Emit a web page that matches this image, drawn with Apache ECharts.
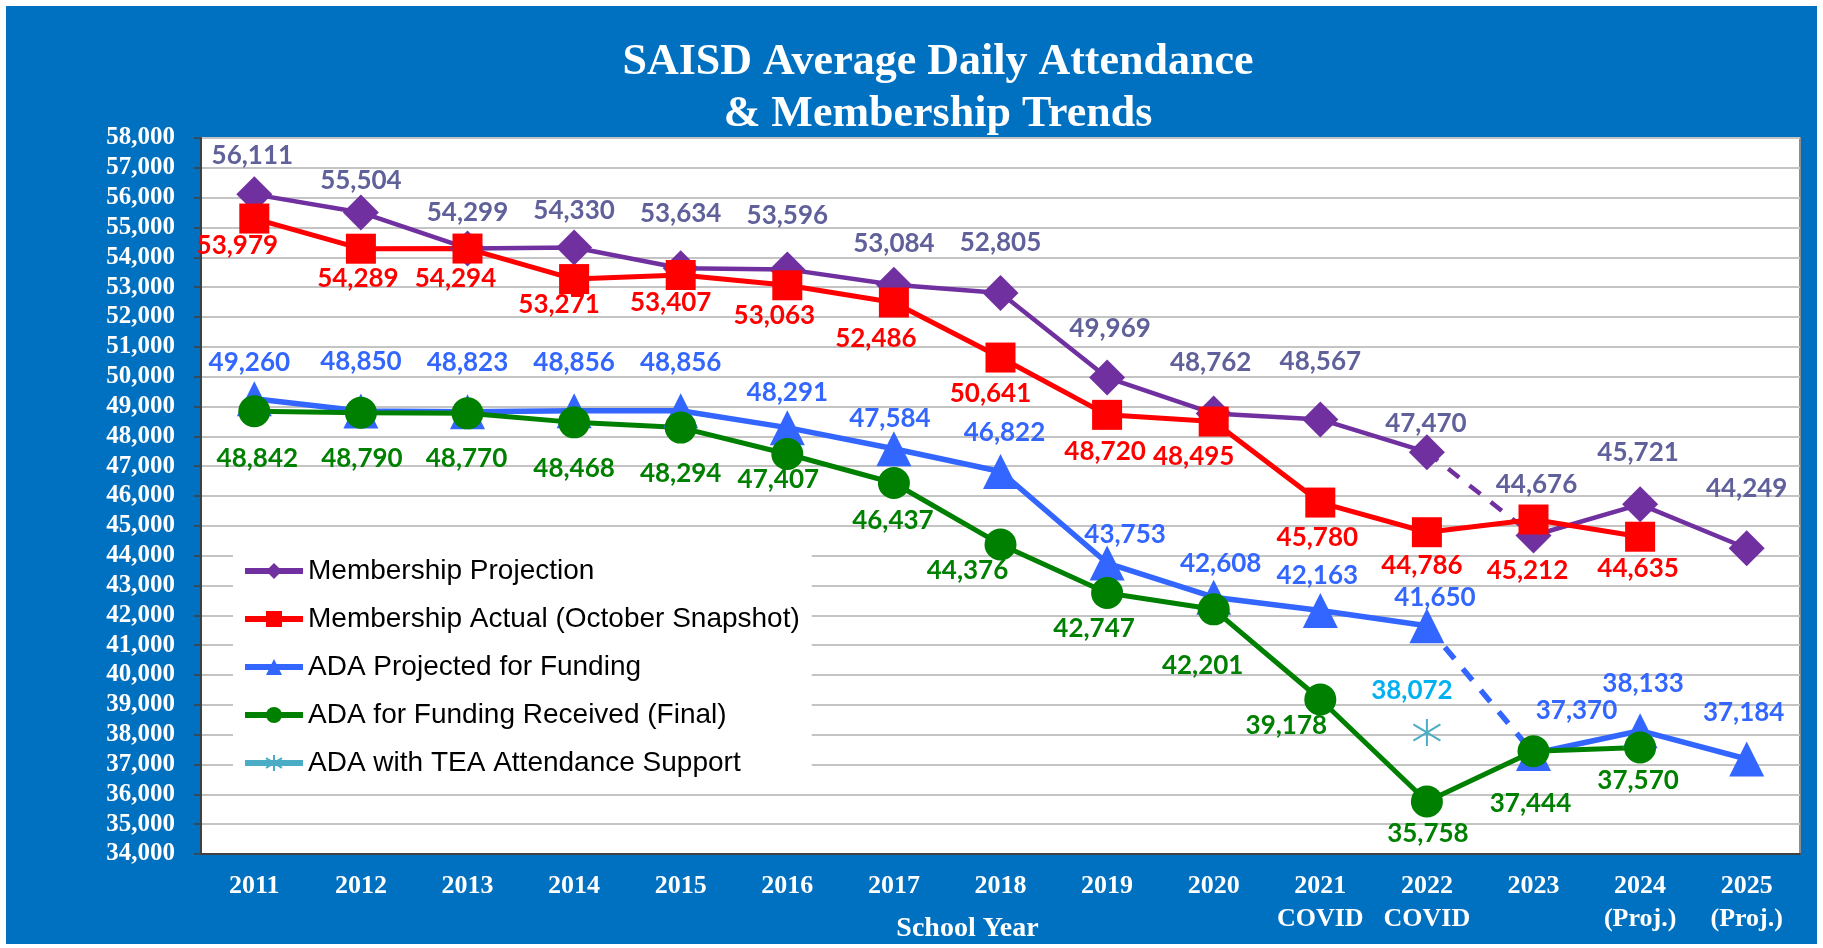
<!DOCTYPE html>
<html>
<head>
<meta charset="utf-8">
<script src="https://cdn.jsdelivr.net/npm/echarts@6/dist/echarts.min.js"></script>
<style>
  html, body { margin: 0; padding: 0; background: #fff; }
  #chart_container { width: 1823px; height: 948px; }
</style>
</head>
<body>
<div id="chart_container"></div>
<script>
// ---- data ----
var years = ["2011", "2012", "2013", "2014", "2015", "2016", "2017", "2018", "2019", "2020",
  "2021\nCOVID", "2022\nCOVID", "2023", "2024\n(Proj.)", "2025\n(Proj.)"];

var membershipProjection = [56111, 55504, 54299, 54330, 53634, 53596, 53084, 52805, 49969, 48762, 48567, 47470, 44676, 45721, 44249];
// the 2011 square sits near 55,300 but its label reads 53,979
var membershipActual = [55300, 54289, 54294, 53271, 53407, 53063, 52486, 50641, 48720, 48495, 45780, 44786, 45212, 44635, null];
var membershipActualText = ["53,979"];
var adaProjected = [49260, 48850, 48823, 48856, 48856, 48291, 47584, 46822, 43753, 42608, 42163, 41650, 37370, 38133, 37184];
var adaReceived = [48842, 48790, 48770, 48468, 48294, 47407, 46437, 44376, 42747, 42201, 39178, 35758, 37444, 37570, null];
var adaTea = [null, null, null, null, null, null, null, null, null, null, null, 38072, null, null, null];

var yMin = 34000, yMax = 58000, yStep = 1000;

var projNudge = [[-2,-39],[0,-32],[0,-36],[0,-37],[0,-55],[0,-54],[0,-41],[0,-50],[3,-49],[-3,-51],[0,-58],[-1,-29],[3,-51],[-2,-52],[0,-60]];
var actNudge = [[-17,27],[-3,30],[-12,30],[-15,26],[-10,28],[-13,30],[-18,36],[-10,36],[-2,37],[-20,35],[-3,35],[-5,33],[-6,51],[-2,32],[0,0]];
var adaPNudge = [[-5,-36],[0,-49],[0,-49],[0,-48],[0,-48],[0,-35],[-4,-30],[4,-39],[18,-28],[7,-34],[-3,-35],[8,-28],[43,-43],[3,-47],[-3,-46]];
var adaRNudge = [[3,47],[1,46],[-1,45],[0,46],[0,46],[-9,26],[-1,38],[-33,26],[-13,36],[-11,56],[-34,26],[1,32],[-3,52],[-2,33],[0,0]];
var teaNudge = [];
teaNudge[11] = [-15, -42];

function fmt(v) {
  return Number(v).toLocaleString("en-US");
}

// keep points from..to, blank the rest; attach label offsets
function pts(values, from, to, nudge, texts) {
  return values.map(function (v, i) {
    if (v == null || i < from || i > to) return null;
    var item = { value: v };
    if (nudge) item.label = { offset: nudge[i] };
    if (texts && texts[i]) item.label.formatter = texts[i];
    return item;
  });
}

function lbl(color) {
  return {
    show: true,
    position: "inside",
    color: color,
    fontFamily: "Lato",
    fontWeight: "bold",
    fontSize: 26,
    formatter: function (p) { return fmt(p.value); }
  };
}

var PURPLE = "#7030A0", RED = "#FF0000", BLUE = "#3366FF", GREEN = "#008000", TEAL = "#4BACC6";
var last = years.length - 1;
var asterisk = "path://M5,0 L5,10 M0.6,2 L9.4,8 M9.4,2 L0.6,8";

var dom = document.getElementById("chart_container");
var myChart = echarts.init(dom, null, { renderer: "canvas" });

var option = {
  backgroundColor: "#fff",
  animation: false,
  graphic: [
    { type: "rect", z: -10, silent: true, shape: { x: 6, y: 6, width: 1811, height: 938 }, style: { fill: "#0070C0" } }
  ],
  title: {
    text: "SAISD Average Daily Attendance\n& Membership Trends",
    left: 933,
    top: 32,
    textAlign: "center",
    textStyle: {
      fontFamily: "Liberation Serif",
      fontWeight: "bold",
      fontSize: 44,
      lineHeight: 52,
      color: "#fff"
    }
  },
  legend: {
    orient: "vertical",
    left: 233,
    top: 544,
    backgroundColor: "#fff",
    padding: [12, 12, 10, 9],
    itemWidth: 58,
    itemHeight: 20,
    itemGap: 18,
    lineStyle: { width: 6 },
    data: ["Membership Projection", "Membership Actual (October Snapshot)", "ADA Projected for Funding",
      "ADA for Funding Received (Final)", "ADA with TEA Attendance Support"],
    textStyle: { fontFamily: "Liberation Sans", fontSize: 28, lineHeight: 30, color: "#000" }
  },
  grid: {
    left: 201, right: 23, top: 138, bottom: 94,
    outerBoundsMode: "none",
    containLabel: false,
    show: true,
    backgroundColor: "#fff",
    borderColor: "#8C8C8C",
    borderWidth: 2
  },
  xAxis: {
    type: "category",
    data: years,
    name: "School Year",
    nameLocation: "middle",
    nameGap: 61,
    nameMoveOverlap: false,
    nameTextStyle: {
      fontFamily: "Liberation Serif", fontWeight: "bold", fontSize: 28, color: "#fff",
      padding: [0, 66, 0, 0]
    },
    axisLine: { lineStyle: { color: "#404040", width: 2 } },
    axisTick: { alignWithLabel: true, length: 8, lineStyle: { color: "#404040", width: 1.5 } },
    axisLabel: {
      interval: 0,
      margin: 16,
      fontFamily: "Liberation Serif", fontWeight: "bold", fontSize: 26, lineHeight: 33, color: "#fff"
    }
  },
  yAxis: {
    type: "value",
    min: yMin, max: yMax, interval: yStep,
    axisLine: { show: true, lineStyle: { color: "#404040", width: 2 } },
    axisTick: { show: true, length: 7, lineStyle: { color: "#404040", width: 1.5 } },
    axisLabel: {
      margin: 26,
      fontFamily: "Liberation Serif", fontWeight: "bold", fontSize: 25, color: "#fff",
      formatter: fmt
    },
    splitLine: { lineStyle: { color: "#C4C4C4", width: 2 } }
  },
  series: [
    {
      name: "Membership Projection", type: "line",
      data: pts(membershipProjection, 0, 11, projNudge),
      symbol: "diamond", symbolSize: 36,
      itemStyle: { color: PURPLE }, lineStyle: { color: PURPLE, width: 4.5 },
      label: lbl("#60609A")
    },
    {
      name: "Membership Projection", type: "line", z: 1,
      data: pts(membershipProjection, 11, 12),
      showSymbol: false, symbol: "none",
      lineStyle: { color: PURPLE, width: 4.5, type: [14, 13] }
    },
    {
      name: "Membership Projection", type: "line",
      data: pts(membershipProjection, 12, last, projNudge),
      symbol: "diamond", symbolSize: 36,
      itemStyle: { color: PURPLE }, lineStyle: { color: PURPLE, width: 4.5 },
      label: lbl("#60609A")
    },
    {
      name: "Membership Actual (October Snapshot)", type: "line",
      data: pts(membershipActual, 0, last, actNudge, membershipActualText),
      symbol: "rect", symbolSize: 30,
      itemStyle: { color: RED }, lineStyle: { color: RED, width: 5 },
      label: lbl(RED)
    },
    {
      name: "ADA Projected for Funding", type: "line",
      data: pts(adaProjected, 0, 11, adaPNudge),
      symbol: "triangle", symbolSize: 35,
      itemStyle: { color: BLUE }, lineStyle: { color: BLUE, width: 5.5 },
      label: lbl(BLUE)
    },
    {
      name: "ADA Projected for Funding", type: "line", z: 1,
      data: pts(adaProjected, 11, 12),
      showSymbol: false, symbol: "none",
      lineStyle: { color: BLUE, width: 5.5, type: [15, 13] }
    },
    {
      name: "ADA Projected for Funding", type: "line",
      data: pts(adaProjected, 12, last, adaPNudge),
      symbol: "triangle", symbolSize: 35,
      itemStyle: { color: BLUE }, lineStyle: { color: BLUE, width: 5.5 },
      label: lbl(BLUE)
    },
    {
      name: "ADA for Funding Received (Final)", type: "line",
      data: pts(adaReceived, 0, last, adaRNudge),
      symbol: "circle", symbolSize: 32,
      itemStyle: { color: GREEN }, lineStyle: { color: GREEN, width: 5 },
      label: lbl(GREEN)
    },
    {
      name: "ADA with TEA Attendance Support", type: "line",
      data: pts(adaTea, 0, last, teaNudge),
      symbol: asterisk, symbolSize: 27,
      itemStyle: { color: "none", borderColor: TEAL, borderWidth: 2 },
      lineStyle: { color: TEAL, width: 6 },
      label: lbl("#00B0F0")
    }
  ]
};

if (option && typeof option === "object") {
  myChart.setOption(option);
}

window.addEventListener("resize", myChart.resize);
</script>
</body>
</html>
